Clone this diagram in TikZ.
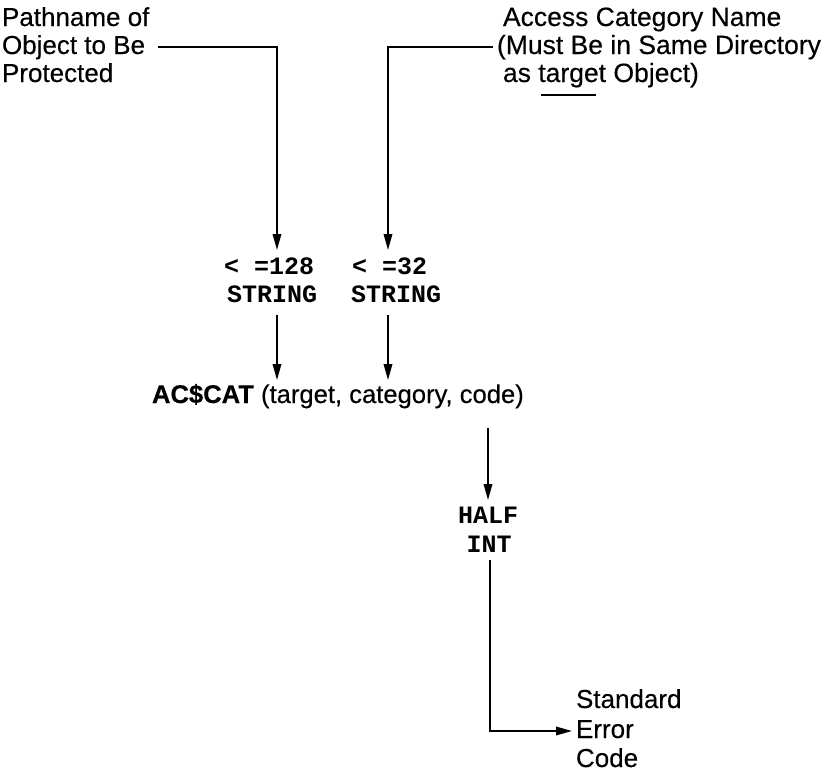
\documentclass[tikz,border=0pt]{standalone}
\usepackage{fontspec}
\setmainfont{Liberation Sans}[FakeBold=0.3]
\newfontfamily\monofnt{Liberation Mono}
\usetikzlibrary{arrows.meta}
\tikzset{
  lbl/.style={inner sep=0pt, outer sep=0pt, align=left, font=\fontsize{26}{28}\selectfont},
  lblr/.style={inner sep=0pt, outer sep=0pt, align=left, font=\fontsize{26.5}{28}\selectfont},
  lblc/.style={inner sep=0pt, outer sep=0pt, font=\fontsize{25.6}{28}\selectfont},
  mono/.style={inner sep=0pt, outer sep=0pt, font=\monofnt\bfseries\fontsize{25}{28}\selectfont},
  conn/.style={line width=1.8pt, -{Triangle[length=16pt,width=8.5pt]}},
  plain/.style={line width=1.8pt}
}
\begin{document}
\begin{tikzpicture}[x=1pt,y=-1pt]
\useasboundingbox (0,0) rectangle (838,771);
% labels
\node[lbl, anchor=base west] (path) at (2,26) {Pathname of};
\node[lbl, anchor=base west] (path2) at (2,54) {Object to Be};
\node[lbl, anchor=base west] (path3) at (2,82) {Protected};
\node[lblr, anchor=base west] (acc) at (503,26) {Access Category Name};
\node[lblr, anchor=base west] (acc2) at (497,54) {(Must Be in Same Directory};
\node[lblr, anchor=base west] (acc3) at (503,82) {as target Object)};
\draw[line width=1.2pt] (541,95) -- (596,95);
% mono type labels
\node[mono, anchor=base west] (lim1) at (224,274) {< =128};
\node[mono, anchor=base west] (str1) at (227,302) {STRING};
\node[mono, anchor=base west] (lim2) at (352,274) {< =32};
\node[mono, anchor=base west] (str2) at (351,302) {STRING};
% call
\node[lblc, anchor=base west] (call) at (152,403) {\textbf{AC\$CAT} (target, category, code)};
% half int
\node[mono, anchor=base] (half) at (488,523) {HALF};
\node[mono, anchor=base] (int) at (489,552) {INT};
% result
\node[lbl, anchor=base west] (std) at (576,708) {Standard};
\node[lbl, anchor=base west] (err) at (576,738) {Error};
\node[lbl, anchor=base west] (code) at (576,767) {Code};
% coordinates
\coordinate (s1) at (158,47);
\coordinate (t1) at (277,250);
\coordinate (s2) at (493,47);
\coordinate (t2) at (388,250);
\coordinate (a1) at (277,315);
\coordinate (b1) at (277,380);
\coordinate (a2) at (388,315);
\coordinate (b2) at (388,380);
\coordinate (a3) at (488,428);
\coordinate (b3) at (488,500);
\coordinate (a4) at (490,560);
\coordinate (b4) at (572,731);
% connectors
\draw[conn] (s1) -| (t1);
\draw[conn] (s2) -| (t2);
\draw[conn] (a1) -- (b1);
\draw[conn] (a2) -- (b2);
\draw[conn] (a3) -- (b3);
\draw[conn] (a4) |- (b4);
\end{tikzpicture}
\end{document}
